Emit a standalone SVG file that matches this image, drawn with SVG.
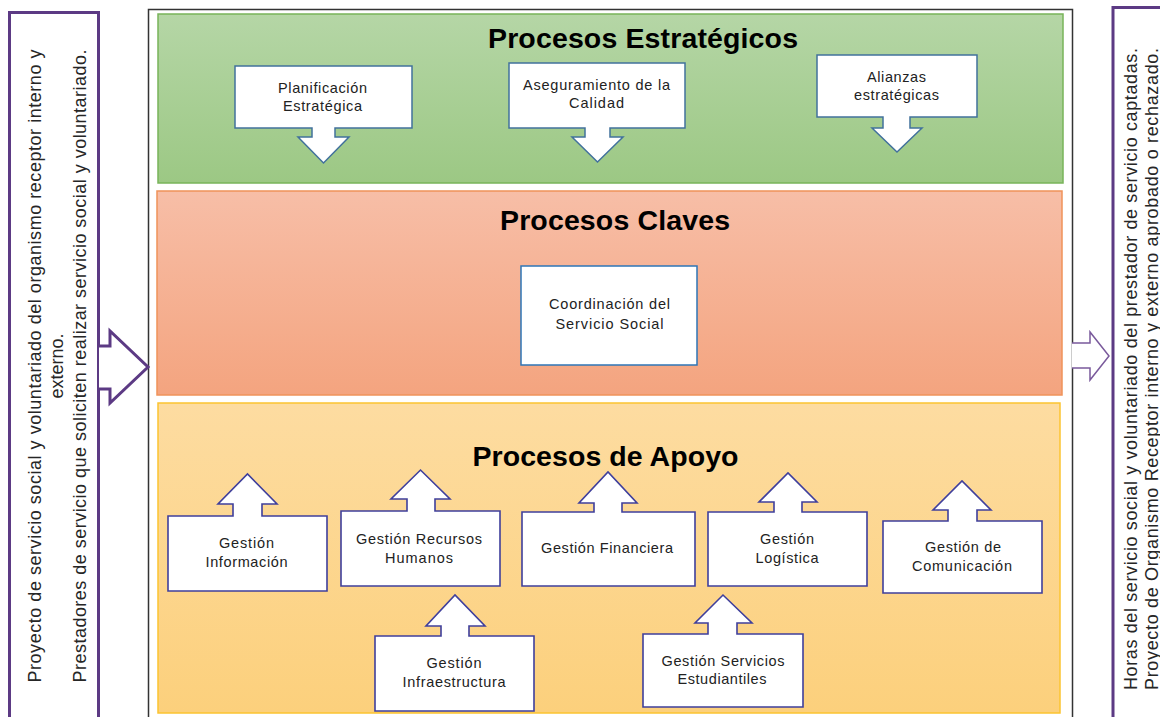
<svg xmlns="http://www.w3.org/2000/svg" width="1160" height="717" viewBox="0 0 1160 717">
<defs>
<linearGradient id="gGreen" x1="0" y1="0" x2="0" y2="1"><stop offset="0" stop-color="#b5d6a6"/><stop offset="1" stop-color="#9cc884"/></linearGradient>
<linearGradient id="gOrange" x1="0" y1="0" x2="0" y2="1"><stop offset="0" stop-color="#f7bea7"/><stop offset="1" stop-color="#f4a47f"/></linearGradient>
<linearGradient id="gYellow" x1="0" y1="0" x2="0" y2="1"><stop offset="0" stop-color="#fddca1"/><stop offset="1" stop-color="#fcd07c"/></linearGradient>
<style>
.title{font-family:"Liberation Sans",Arial,sans-serif;font-weight:bold;font-size:28.5px;fill:#000;text-anchor:middle}
.lbl{font-family:"Liberation Sans",Arial,sans-serif;font-size:14.5px;fill:#222;text-anchor:middle}
.side{font-family:"Liberation Sans",Arial,sans-serif;font-size:18px;fill:#262626}
.strat{fill:#fff;stroke:#41719c;stroke-width:1.5}
.apoyo{fill:#fff;stroke:#3f3f9c;stroke-width:1.6}
.key{fill:#fff;stroke:#2e75b6;stroke-width:1.5}
</style>
</defs>
<rect width="1160" height="717" fill="#fff"/>

<g id="outer-frame">
<rect x="148.5" y="9.5" width="924" height="720" fill="none" stroke="#333" stroke-width="1.5"/>
</g>

<g id="band-estrategicos">
<rect x="158" y="14" width="905" height="169" fill="url(#gGreen)" stroke="#78b45a" stroke-width="1.5"/>
<text class="title" x="643" y="48" textLength="310">Procesos Estratégicos</text>
</g>
<g id="band-claves">
<rect x="157" y="191" width="905" height="204" fill="url(#gOrange)" stroke="#f0935a" stroke-width="1.5"/>
<text class="title" x="615" y="230" textLength="230">Procesos Claves</text>
</g>
<g id="band-apoyo">
<rect x="158" y="403" width="902" height="310" fill="url(#gYellow)" stroke="#fcc431" stroke-width="1.5"/>
<text class="title" x="605.5" y="466" textLength="266">Procesos de Apoyo</text>
</g>

<g id="entrada">
<rect x="9.5" y="12.5" width="89" height="720" fill="#fff" stroke="#5c3a84" stroke-width="3"/>
<text class="side" text-anchor="middle" transform="translate(41 366) rotate(-90)" textLength="633">Proyecto de servicio social y voluntariado del organismo receptor interno y</text>
<text class="side" text-anchor="middle" transform="translate(63 366) rotate(-90)">externo.</text>
<text class="side" text-anchor="middle" transform="translate(86 366) rotate(-90)" textLength="633">Prestadores de servicio que soliciten realizar servicio social y voluntariado.</text>
</g>

<g id="salida">
<rect x="1113" y="7.5" width="60" height="720" fill="#fff" stroke="#5c3a84" stroke-width="3"/>
<text class="side" transform="translate(1137 690) rotate(-90)" textLength="642">Horas del servicio social y voluntariado del prestador de servicio captadas.</text>
<text class="side" transform="translate(1158 690) rotate(-90)" textLength="642">Proyecto de Organismo Receptor interno y externo aprobado o rechazado.</text>
</g>

<g id="connectors">
<path d="M99,346 H110 V331 L148,367 L110,403 V389 H99" fill="#fff" stroke="#5c3a84" stroke-width="3" stroke-linejoin="miter"/>
<path d="M1072,343 H1090 V332 L1109,356 L1090,380 V368 H1072" fill="#fff" stroke="#7a5a9c" stroke-width="1.5"/>
</g>

<g id="planificacion">
<path class="strat" d="M235,66 H412 V128 H335 V137 H349 L323.5,163 L298,137 H312 V128 H235 Z"/>
<text class="lbl" x="322.5" y="93" textLength="89">Planificación</text>
<text class="lbl" x="322.5" y="111" textLength="79">Estratégica</text>
</g>
<g id="aseguramiento">
<path class="strat" d="M509,63 H685 V128 H610 V137 H623 L597.5,162 L572,137 H585 V128 H509 Z"/>
<text class="lbl" x="596.5" y="90" textLength="147">Aseguramiento de la</text>
<text class="lbl" x="596.5" y="108" textLength="55">Calidad</text>
</g>
<g id="alianzas">
<path class="strat" d="M817,55 H977 V117 H910 V128 H922 L897,152 L872,128 H883 V117 H817 Z"/>
<text class="lbl" x="896.5" y="82" textLength="59">Alianzas</text>
<text class="lbl" x="896.5" y="100" textLength="85">estratégicas</text>
</g>

<g id="coordinacion">
<rect class="key" x="521" y="266" width="176" height="99"/>
<text class="lbl" x="609.5" y="309" textLength="121">Coordinación del</text>
<text class="lbl" x="609.5" y="329" textLength="108">Servicio Social</text>
</g>

<g id="gestion-informacion">
<path class="apoyo" d="M168,591 V516 H233 V504 H218 L247.5,474 L277,504 H262 V516 H327 V591 Z"/>
<text class="lbl" x="246.5" y="548" textLength="55">Gestión</text>
<text class="lbl" x="246.5" y="567" textLength="82">Información</text>
</g>
<g id="gestion-rrhh">
<path class="apoyo" d="M341,586 V511 H407 V499 H391 L420.5,470 L450,499 H435 V511 H500 V586 Z"/>
<text class="lbl" x="419" y="544" textLength="126">Gestión Recursos</text>
<text class="lbl" x="419" y="563" textLength="68">Humanos</text>
</g>
<g id="gestion-financiera">
<path class="apoyo" d="M522,586 V512 H594 V503 H579 L608,472 L637,503 H622 V512 H695 V586 Z"/>
<text class="lbl" x="607" y="553" textLength="132">Gestión Financiera</text>
</g>
<g id="gestion-logistica">
<path class="apoyo" d="M708,586 V512 H774 V502 H759 L788,473 L817,502 H802 V512 H867 V586 Z"/>
<text class="lbl" x="787" y="544" textLength="54">Gestión</text>
<text class="lbl" x="787" y="563" textLength="63">Logística</text>
</g>
<g id="gestion-comunicacion">
<path class="apoyo" d="M883,593 V521 H948 V510 H933 L962,481 L991,510 H977 V521 H1042 V593 Z"/>
<text class="lbl" x="963" y="552" textLength="76">Gestión de</text>
<text class="lbl" x="962" y="571" textLength="100">Comunicación</text>
</g>
<g id="gestion-infraestructura">
<path class="apoyo" d="M375,711 V636 H441 V626 H426 L455,595 L485,626 H469 V636 H534 V711 Z"/>
<text class="lbl" x="454" y="668" textLength="55">Gestión</text>
<text class="lbl" x="454" y="687" textLength="103">Infraestructura</text>
</g>
<g id="gestion-servicios">
<path class="apoyo" d="M643,707 V634 H708 V623 H695 L723,595 L752,623 H737 V634 H803 V707 Z"/>
<text class="lbl" x="723" y="666" textLength="123">Gestión Servicios</text>
<text class="lbl" x="722" y="684" textLength="89">Estudiantiles</text>
</g>
</svg>
